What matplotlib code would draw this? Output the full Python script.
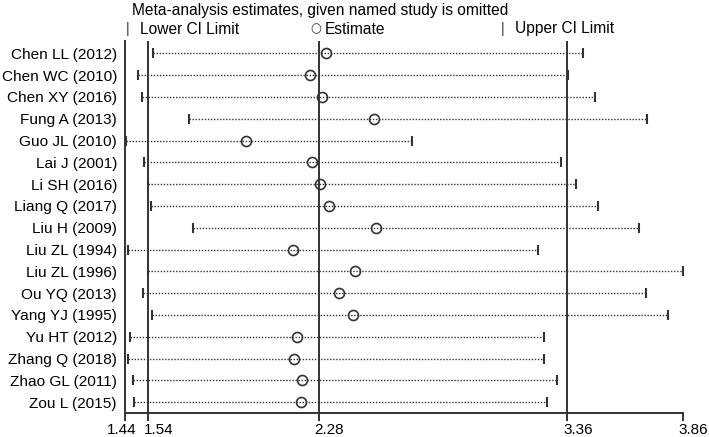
import matplotlib
matplotlib.use("Agg")
import matplotlib.pyplot as plt
import matplotlib.transforms as mtransforms

plt.rcParams['font.family'] = ['Liberation Sans', 'DejaVu Sans']

studies = ["Chen LL (2012)", "Chen WC (2010)", "Chen XY (2016)", "Fung A (2013)",
           "Guo JL (2010)", "Lai J (2001)", "Li SH (2016)", "Liang Q (2017)",
           "Liu H (2009)", "Liu ZL (1994)", "Liu ZL (1996)", "Ou YQ (2013)",
           "Yang YJ (1995)", "Yu HT (2012)", "Zhang Q (2018)", "Zhao GL (2011)",
           "Zou L (2015)"]
lower = [1.560, 1.495, 1.512, 1.716, 1.444, 1.522, 1.541, 1.551, 1.737,
         1.453, 1.541, 1.520, 1.557, 1.463, 1.453, 1.475, 1.480]
estimate = [2.312, 2.243, 2.295, 2.521, 1.965, 2.253, 2.288, 2.324, 2.527,
            2.168, 2.440, 2.370, 2.431, 2.185, 2.173, 2.210, 2.203]
upper = [3.426, 3.361, 3.481, 3.706, 2.686, 3.332, 3.396, 3.492, 3.672,
         3.234, 3.860, 3.701, 3.795, 3.259, 3.256, 3.316, 3.269]
ref_lines = [1.54, 2.28, 3.36]
xticks = [1.44, 1.54, 2.28, 3.36, 3.86]
xticklabels = ["1.44", "1.54", "2.28", "3.36", "3.86"]

W, H = 709, 437
fig = plt.figure(figsize=(W / 100, H / 100), dpi=100)
left, right, top, bottom = 125, 682.7, 40.5, 413.3
ax = fig.add_axes([left / W, (H - bottom) / H, (right - left) / W, (bottom - top) / H])

col = '#333333'
ypos = list(range(len(studies)))
for y, lo, est, up in zip(ypos, lower, estimate, upper):
    ax.plot([lo, up], [y, y], linestyle=(0, (1, 1.2)), color=col, lw=1.0)
    ax.plot([lo, up], [y, y], linestyle='none', marker='|', markersize=6.5,
            mew=1.5, color=col)
    ax.plot([est], [y], linestyle='none', marker='o', markersize=7.2,
            mfc='none', mec=col, mew=1.2)

for v in ref_lines:
    ax.axvline(v, color=col, lw=1.4)

ax.set_xlim(1.44, 3.86)
ax.set_ylim(16.51, -0.587)
ax.set_yticks(ypos)
ax.set_yticklabels(studies, fontsize=11.1)
ax.tick_params(axis='y', length=0, pad=5.8)
ax.set_xticks(xticks)
ax.set_xticklabels(xticklabels, fontsize=11)
ax.tick_params(axis='x', direction='out', length=5.8, width=1.4, color=col, pad=1.5)
for s in ['top', 'right']:
    ax.spines[s].set_visible(False)
for s in ['left', 'bottom']:
    ax.spines[s].set_color(col)
    ax.spines[s].set_linewidth(1.4)

# Stata-style tick label placement
for lab in ax.get_xticklabels():
    if lab.get_text() == "1.44":
        lab.set_horizontalalignment('right')
        dx = 12 / 100
    else:
        lab.set_horizontalalignment('left')
        dx = -4 / 100
    lab.set_transform(lab.get_transform() +
                      mtransforms.ScaledTranslation(dx, 0, fig.dpi_scale_trans))

fig.text(320 / W, 1 - 10 / H, "Meta-analysis estimates, given named study is omitted",
         ha='center', va='center', fontsize=11.2)
ly = 1 - 29 / H
fig.text(128 / W, ly, "|", ha='center', va='center', fontsize=10, color=col)
fig.text(140 / W, ly, "Lower CI Limit", ha='left', va='center', fontsize=11.2)
fig.text(316 / W, ly, "○", ha='center', va='center', fontsize=9, color=col,
         family=['DejaVu Sans'])
fig.text(325 / W, ly, "Estimate", ha='left', va='center', fontsize=11.2)
fig.text(503 / W, ly, "|", ha='center', va='center', fontsize=10, color=col)
fig.text(515 / W, ly, "Upper CI Limit", ha='left', va='center', fontsize=11.2)

fig.savefig("out.png", dpi=100)
